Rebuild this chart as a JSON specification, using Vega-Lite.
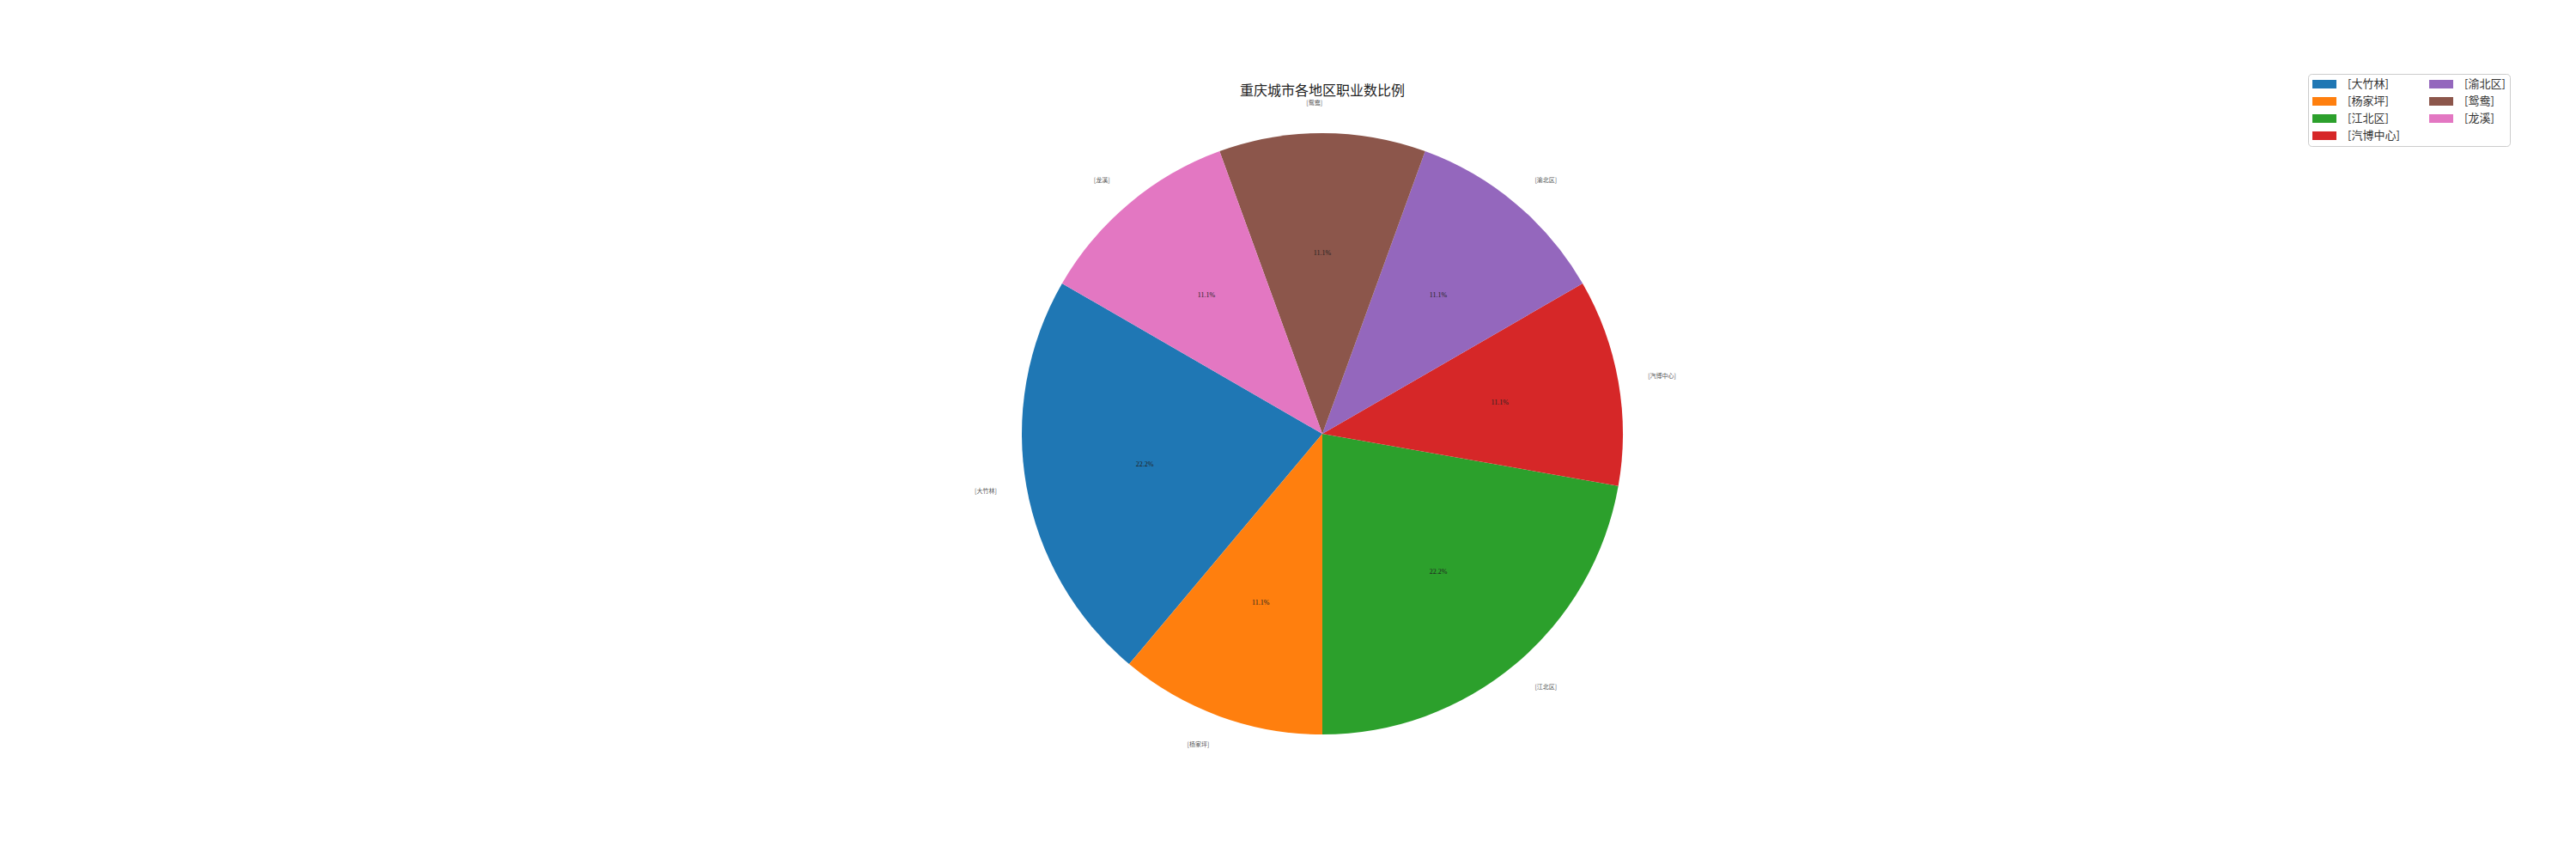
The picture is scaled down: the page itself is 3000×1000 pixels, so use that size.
{
  "$schema": "https://vega.github.io/schema/vega-lite/v6.json",
  "width": 2920,
  "height": 990,
  "padding": {"left": 80, "top": 10, "right": 0, "bottom": 0},
  "autosize": {"type": "none"},
  "background": "white",
  "title": {
    "text": "重庆城市各地区职业数比例",
    "font": "Noto Sans CJK SC",
    "fontSize": 16,
    "fontWeight": "normal",
    "color": "#222",
    "anchor": "middle",
    "offset": -104
  },
  "data": {
    "values": [
      {"idx": 1, "region": "[大竹林]", "share": 0.2222},
      {"idx": 2, "region": "[杨家坪]", "share": 0.1111},
      {"idx": 3, "region": "[江北区]", "share": 0.2222},
      {"idx": 4, "region": "[汽博中心]", "share": 0.1111},
      {"idx": 5, "region": "[渝北区]", "share": 0.1111},
      {"idx": 6, "region": "[鸳鸯]", "share": 0.1111},
      {"idx": 7, "region": "[龙溪]", "share": 0.1111}
    ]
  },
  "encoding": {
    "theta": {"field": "share", "type": "quantitative", "stack": true, "scale": {"range": [-1.0472, -7.3304]}},
    "order": {"field": "idx", "type": "quantitative"}
  },
  "layer": [
    {
      "mark": {"type": "arc", "outerRadius": 350, "strokeWidth": 0},
      "encoding": {
        "color": {
          "field": "region",
          "type": "nominal",
          "scale": {
            "domain": ["[大竹林]", "[杨家坪]", "[江北区]", "[汽博中心]", "[渝北区]", "[鸳鸯]", "[龙溪]"],
            "range": ["#1f77b4", "#ff7f0e", "#2ca02c", "#d62728", "#9467bd", "#8c564b", "#e377c2"]
          },
          "legend": {
            "title": null,
            "orient": "none",
            "legendX": 2608,
            "legendY": 76,
            "columns": 2,
            "columnPadding": 34,
            "rowPadding": 6,
            "padding": 5,
            "strokeColor": "#cccccc",
            "fillColor": "white",
            "cornerRadius": 4,
            "symbolType": "M-1,-0.714H3V0.714H-1Z",
            "symbolSize": 196,
            "symbolStrokeWidth": 0,
            "symbolOpacity": 1,
            "labelOffset": 27,
            "labelFont": "Noto Sans CJK SC",
            "labelFontSize": 13,
            "labelColor": "#333"
          }
        }
      }
    },
    {
      "mark": {"type": "text", "radius": 210, "font": "Liberation Serif", "fontSize": 8, "color": "#222", "align": "center", "baseline": "middle"},
      "encoding": {
        "text": {"field": "share", "type": "quantitative", "format": ".1%"}
      }
    },
    {
      "mark": {"type": "text", "radius": 385, "font": "Noto Sans CJK SC", "fontSize": 7, "color": "#555", "align": "left", "baseline": "middle"},
      "encoding": {
        "text": {"condition": {"test": "indexof(['[江北区]','[汽博中心]','[渝北区]'], datum.region) >= 0", "field": "region"}, "value": ""}
      }
    },
    {
      "mark": {"type": "text", "radius": 385, "font": "Noto Sans CJK SC", "fontSize": 7, "color": "#555", "align": "right", "baseline": "middle"},
      "encoding": {
        "text": {"condition": {"test": "indexof(['[江北区]','[汽博中心]','[渝北区]'], datum.region) < 0", "field": "region"}, "value": ""}
      }
    }
  ],
  "config": {"view": {"stroke": null}}
}
